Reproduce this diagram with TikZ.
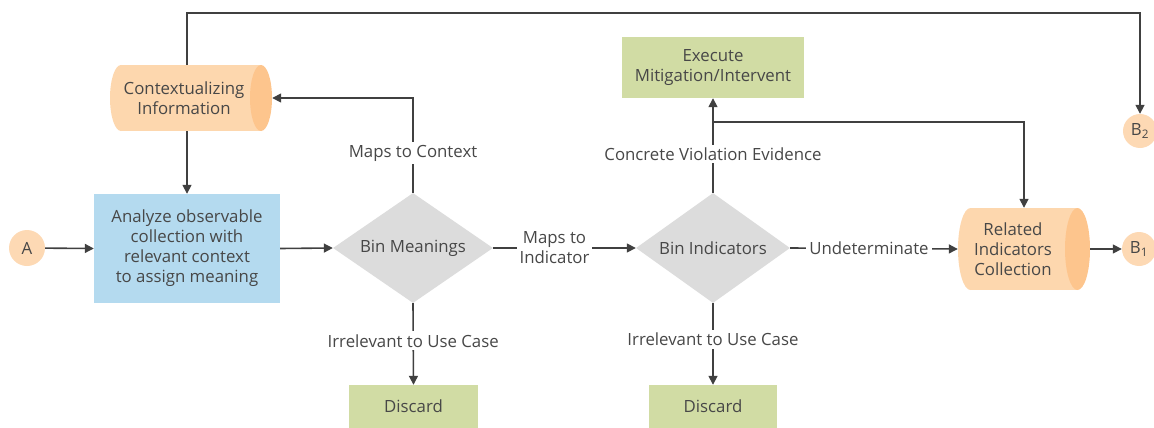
\documentclass[tikz,border=0pt]{standalone}
\usepackage{fontspec}
\setmainfont{Open Sans}
\usetikzlibrary{shapes.geometric,arrows.meta,calc}
\definecolor{txtc}{HTML}{474747}
\definecolor{linec}{HTML}{404040}
\definecolor{orbody}{HTML}{FDD7AE}
\definecolor{orcap}{HTML}{FDC58D}
\definecolor{orcirc}{HTML}{FDD9B4}
\definecolor{bluec}{HTML}{B4DAEF}
\definecolor{grayc}{HTML}{DCDCDC}
\definecolor{greenc}{HTML}{D1DCA4}
\tikzset{
  base/.style={font=\fontsize{16.8}{20}\selectfont, text=txtc, align=center, inner sep=0pt},
  boxnode/.style={base, rectangle},
  dia/.style={base, diamond, fill=grayc, aspect=1.45},
  circ/.style={base, circle, fill=orcirc, minimum size=34pt},
  cylframe/.style={rectangle, inner sep=0pt},
  lbl/.style={base, fill=white, inner sep=3pt},
  arr/.style={draw=linec, line width=1.6pt, -{Triangle[length=9pt,width=9pt]}},
}
\begin{document}
\begin{tikzpicture}[x=1pt,y=-1pt]
\useasboundingbox (0,0) rectangle (1154,428);
% cylinders
\node[cylframe, minimum width=162pt, minimum height=66pt] (ctx) at (191,98) {};
\fill[orbody] (121,65) rectangle (261,131);
\fill[orbody] (121,98) ellipse [x radius=11, y radius=33];
\fill[orcap] (261,98) ellipse [x radius=11, y radius=33];
\node[base] (ctxt) at (184,98) {Contextualizing\\Information};

\node[cylframe, minimum width=132pt, minimum height=82pt] (rel) at (1024,249) {};
\fill[orbody] (970.5,208) rectangle (1077.5,290);
\fill[orbody] (970.5,249) ellipse [x radius=12.5, y radius=41];
\fill[orcap] (1077.5,249) ellipse [x radius=12.5, y radius=41];
\node[base] (relt) at (1013,249) {Related\\Indicators\\Collection};

% boxes
\node[boxnode, fill=bluec, minimum width=186pt, minimum height=109pt] (an) at (187,248.5) {Analyze observable\\collection with\\relevant context\\to assign meaning};
\node[boxnode, fill=greenc, minimum width=182pt, minimum height=61pt] (ex) at (713,67.5) {Execute\\Mitigation/Intervent};
\node[boxnode, fill=greenc, minimum width=129pt, minimum height=43pt] (d1) at (413.5,406.5) {Discard};
\node[boxnode, fill=greenc, minimum width=128pt, minimum height=43pt] (d2) at (713,406.5) {Discard};

% diamonds
\node[dia, minimum width=160pt, minimum height=110pt] (bm) at (413,248) {Bin Meanings};
\node[dia, minimum width=154pt, minimum height=110pt] (bi) at (713,248) {Bin Indicators};

% circles
\node[circ, minimum size=36pt] (A) at (27,248) {A};
\node[circ] (B1) at (1139,249) {B\textsubscript{1}};
\node[circ] (B2) at (1140,131) {B\textsubscript{2}};

% connectors
\coordinate (tl) at (185,13);
\coordinate (br) at (713,122);
\draw[arr] (A) -- (an.west);
\draw[arr] (an.east) -- (bm.west);
\draw[arr] (an.north |- ctx.south) -- (an.north);
\draw[arr] (an.north |- ctx.north) -- (an.north |- tl) -- (tl -| B2) -- (B2.north);
\draw[arr] (bm.north) |- node[lbl, pos=0.21] (l1) {Maps to Context} (ctx.east);
\draw[arr] (bm.south) -- node[lbl, pos=0.46] (l2) {Irrelevant to Use Case} (d1.north);
\draw[arr] (bm.east) -- node[lbl, pos=0.43] (l3) {Maps to\\Indicator} (bi.west);
\draw[arr] (bi.north) -- node[lbl, pos=0.41] (l4) {Concrete Violation Evidence} (ex.south);
\draw[arr] (br) -| (rel.north);
\draw[arr] (bi.south) -- node[lbl, pos=0.44] (l5) {Irrelevant to Use Case} (d2.north);
\draw[arr] (bi.east) -- node[lbl, pos=0.47] (l6) {Undeterminate} (rel.west);
\draw[arr] (rel.east) -- (B1.west);
\end{tikzpicture}
\end{document}
